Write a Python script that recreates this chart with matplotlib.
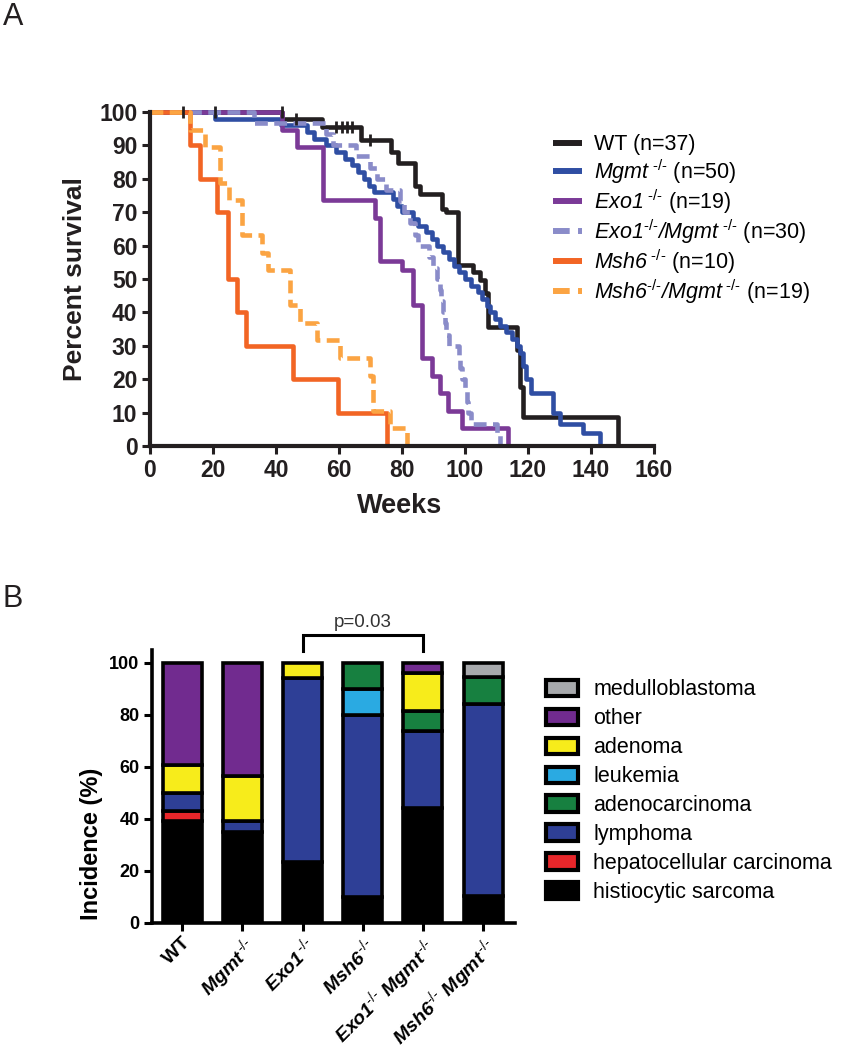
import numpy as np
import matplotlib.pyplot as plt
from matplotlib.lines import Line2D
from matplotlib.patches import Patch

plt.rcParams['font.family'] = ['Liberation Sans', 'DejaVu Sans']
plt.rcParams['mathtext.fontset'] = 'custom'
plt.rcParams['mathtext.rm'] = 'Liberation Sans'
plt.rcParams['mathtext.it'] = 'Liberation Sans:italic'
plt.rcParams['mathtext.bf'] = 'Liberation Sans:bold'
# cal -> italic, sf -> bold italic (keeps digits slanted too)
plt.rcParams['mathtext.cal'] = 'Liberation Sans:italic'
plt.rcParams['mathtext.sf'] = 'Liberation Sans:italic:bold'

# ---- panel A: survival (weeks, percent surviving after each step) ----
wt_t = [0, 42, 54.5, 67, 76.5, 78.8, 84.1, 85.7, 92.6, 94, 97.9, 102.6, 104.8, 106.3, 107.4, 116.4, 117.5, 118.5, 148.5]
wt_s = [100, 98, 95.5, 91.5, 88, 84.6, 78, 75.6, 71, 70, 54.2, 52, 49.7, 45.7, 35.7, 28.7, 17.8, 8.8, 0]
wt_cens_t = [10.6, 20.6, 41.9, 46.5, 59, 61, 62.5, 64, 70]
wt_cens_s = [100, 100, 100, 98, 95.5, 95.5, 95.5, 95.5, 91.5]

mgmt_t = [0, 20.6, 41.5, 50, 52, 56, 59, 62, 64, 66, 68, 69.5, 71, 77, 78.5, 80, 83.5, 85, 87.5,
          89.5, 91, 93, 95, 96.5, 98, 100, 102, 104, 105.5, 107, 108, 109.5, 111, 113, 115,
          116.5, 117.5, 118.5, 119.5, 121, 128, 130, 137.5, 143]
mgmt_s = [100, 98, 96, 94, 92, 90, 88, 86, 84, 82, 80, 78, 76, 74, 72, 70, 68, 66, 64,
          62, 60, 58, 56, 54, 52, 50, 48, 46, 44, 42, 40, 38, 36, 34, 32,
          30, 28, 24, 20, 16, 10, 6.5, 4, 0]

exo1_t = [0, 41.8, 46.6, 55, 71.4, 73, 80, 83.6, 86.2, 89.4, 92, 94.7, 98.9, 113.8]
exo1_s = [100, 94.7, 89.5, 73.7, 68.4, 55.5, 52.6, 42.1, 26.3, 21.1, 15.8, 10.5, 5.3, 0]

exo1mgmt_t = [0, 33, 56, 58, 65.5, 70, 72, 75, 79.5, 80.5, 82.5, 84, 85, 88.5, 90, 91, 92,
              92.5, 93, 93.5, 94, 95, 98, 98.5, 99, 100, 100.5, 101, 102, 110, 111]
exo1mgmt_s = [100, 96.7, 93.3, 90, 86.7, 83.3, 80, 76.7, 73.3, 70, 66.7, 63.3, 60, 56.7, 53.3, 50, 46.7,
              43.3, 40, 36.7, 33.3, 30, 26.7, 23.3, 20, 16.7, 13.3, 10, 6.7, 3.3, 0]

msh6_t = [0, 12.7, 15.9, 21.2, 24.9, 27.5, 30.5, 45.5, 59.8, 75.1]
msh6_s = [100, 90, 80, 70, 50, 40, 30, 20, 10, 0]

msh6mgmt_t = [0, 12.7, 17.5, 22.2, 25, 29.1, 35.5, 37.6, 44.4, 47.5, 52.9, 60.3, 69.8, 70.9, 76.2, 81.5]
msh6mgmt_s = [100, 94.7, 89.5, 78.9, 73.7, 63.2, 57.9, 52.6, 42.1, 36.8, 31.6, 26.3, 21.1, 10.5, 5.3, 0]

# ---- panel B: tumour spectrum (% of tumours) ----
genotypes = ['WT', 'Mgmt', 'Exo1', 'Msh6', 'Exo1 Mgmt', 'Msh6 Mgmt']
histiocytic = [39.3, 34.8, 23.5, 10, 44.4, 10.5]
hepatocellular = [3.6, 0, 0, 0, 0, 0]
lymphoma = [7.1, 4.3, 70.6, 70, 29.6, 73.7]
leukemia = [0, 0, 0, 10, 0, 0]
adenocarcinoma = [0, 0, 0, 10, 7.4, 10.5]
adenoma = [10.7, 17.4, 5.9, 0, 14.8, 0]
other = [39.3, 43.5, 0, 0, 3.7, 0]
medulloblastoma = [0, 0, 0, 0, 0, 5.3]

fig = plt.figure(figsize=(8.44, 10.5), dpi=100)
ink = '#231f20'

# ===================== A =====================
axA = fig.add_axes([0.1777, 0.5752, 0.5972, 0.3181])
lw = 3.3
dash = (0, (2.8, 1.4))
sup = r'^{\ \text{-/-}}'
curves = [
    (wt_t, wt_s, '#231f20', '-', 'WT (n=37)'),
    (mgmt_t, mgmt_s, '#2f4ea3', '-', r'$\mathcal{Mgmt}' + sup + '$ (n=50)'),
    (exo1_t, exo1_s, '#7b3a97', '-', r'$\mathcal{Exo1}' + sup + '$ (n=19)'),
    (exo1mgmt_t, exo1mgmt_s, '#8a8cc9', dash,
     r'$\mathcal{Exo1}^{\text{-/-}}\mathcal{/Mgmt}' + sup + '$ (n=30)'),
    (msh6_t, msh6_s, '#f26524', '-', r'$\mathcal{Msh6}' + sup + '$ (n=10)'),
    (msh6mgmt_t, msh6mgmt_s, '#fba443', dash,
     r'$\mathcal{Msh6}^{\text{-/-}}\mathcal{/Mgmt}' + sup + '$ (n=19)'),
]
handlesA = []
for t, s, c, ls, lab in curves:
    axA.step(t, s, where='post', color=c, lw=lw, ls=ls, clip_on=False,
             solid_capstyle='butt', dash_capstyle='butt')
    handlesA.append(Line2D([], [], color=c, lw=lw * 1.3, ls=ls, dash_capstyle='butt',
                           solid_capstyle='butt', label=lab))
axA.plot(wt_cens_t, wt_cens_s, ls='none', marker='|', ms=8, mew=2, color=ink, clip_on=False)

axA.set_xlim(0, 160)
axA.set_ylim(0, 100)
axA.set_xticks(np.arange(0, 161, 20))
axA.set_yticks(np.arange(0, 101, 10))
for sp in ['top', 'right']:
    axA.spines[sp].set_visible(False)
for sp in ['left', 'bottom']:
    axA.spines[sp].set_linewidth(3)
    axA.spines[sp].set_color(ink)
axA.tick_params(width=2.2, length=6, labelsize=16.5, colors=ink, pad=3)
for lab in axA.get_xticklabels() + axA.get_yticklabels():
    lab.set_fontweight('bold')
axA.set_ylabel('Percent survival', fontsize=19, fontweight='bold', color=ink)
axA.yaxis.set_label_coords(-0.125, 0.5)
axA.set_xlabel('Weeks', fontsize=19.5, fontweight='bold', color=ink)
axA.xaxis.set_label_coords(0.496, -0.14)

axA.legend(handles=handlesA, loc='upper left', bbox_to_anchor=(0.655, 0.872),
           bbox_transform=fig.transFigure, frameon=False, fontsize=15.5,
           handlelength=1.35, handletextpad=0.55, labelspacing=0.07,
           borderpad=0, borderaxespad=0)

# ===================== B =====================
axB = fig.add_axes([0.1801, 0.121, 0.4301, 0.260])
x = np.arange(len(genotypes))
layers = [
    (histiocytic, '#000000'),
    (hepatocellular, '#e8262a'),
    (lymphoma, '#2e3f96'),
    (leukemia, '#2aaae2'),
    (adenocarcinoma, '#178040'),
    (adenoma, '#f7ec1b'),
    (other, '#712b8f'),
    (medulloblastoma, '#a7a9ac'),
]
bottom = np.zeros(len(genotypes))
for vals, c in layers:
    v = np.array(vals, dtype=float)
    m = v > 0
    axB.bar(x[m], v[m], bottom=bottom[m], width=0.65, color=c, edgecolor='black',
            linewidth=2.6, zorder=2)
    bottom += v

axB.set_xlim(-0.5, 5.53)
axB.set_ylim(0, 105)
axB.set_yticks(np.arange(0, 101, 20))
axB.set_xticks(x)
bsup = r'^{\,\text{-/-}}'
xlabels = [r'$\mathbf{WT}$',
           r'$\mathsf{Mgmt}' + bsup + '$',
           r'$\mathsf{Exo1}' + bsup + '$',
           r'$\mathsf{Msh6}' + bsup + '$',
           r'$\mathsf{Exo1}^{\text{-/-}}\ \mathsf{Mgmt}' + bsup + '$',
           r'$\mathsf{Msh6}^{\text{-/-}}\ \mathsf{Mgmt}' + bsup + '$']
axB.set_xticklabels(xlabels, rotation=45, ha='right', rotation_mode='anchor', fontsize=14)
for sp in ['top', 'right']:
    axB.spines[sp].set_visible(False)
for sp in ['left', 'bottom']:
    axB.spines[sp].set_linewidth(2.6)
    axB.spines[sp].set_color('black')
axB.tick_params(width=2.2, length=6, colors='black', pad=2)
axB.tick_params(axis='y', labelsize=13, pad=3)
for lab in axB.get_yticklabels():
    lab.set_fontweight('bold')
axB.set_ylabel('Incidence (%)', fontsize=17, fontweight='bold')
axB.yaxis.set_label_coords(-0.135, 0.29)

# significance bracket Exo1 vs Exo1 Mgmt
axB.plot([2, 2, 4, 4], [104.5, 110.9, 110.9, 104.5], color='black', lw=2.2, clip_on=False,
         solid_joinstyle='miter')
axB.text(3, 114, 'p=0.03', ha='center', va='baseline', fontsize=13.5, color='#333333')

legend_items = [('medulloblastoma', '#a7a9ac'), ('other', '#712b8f'), ('adenoma', '#f7ec1b'),
                ('leukemia', '#2aaae2'), ('adenocarcinoma', '#178040'), ('lymphoma', '#2e3f96'),
                ('hepatocellular carcinoma', '#e8262a'), ('histiocytic sarcoma', '#000000')]
handlesB = [Patch(facecolor=c, edgecolor='black', linewidth=3, label=n) for n, c in legend_items]
axB.legend(handles=handlesB, loc='upper left', bbox_to_anchor=(0.647, 0.353),
           bbox_transform=fig.transFigure, frameon=False, fontsize=15.5,
           handlelength=1.5, handleheight=0.8, handletextpad=0.7, labelspacing=0.37,
           borderpad=0, borderaxespad=0)

fig.text(0.003, 1 - 25 / 1050, 'A', fontsize=22, va='baseline', ha='left', color=ink)
fig.text(0.003, 1 - 607 / 1050, 'B', fontsize=22, va='baseline', ha='left', color=ink)

fig.savefig('out.png', dpi=100)
